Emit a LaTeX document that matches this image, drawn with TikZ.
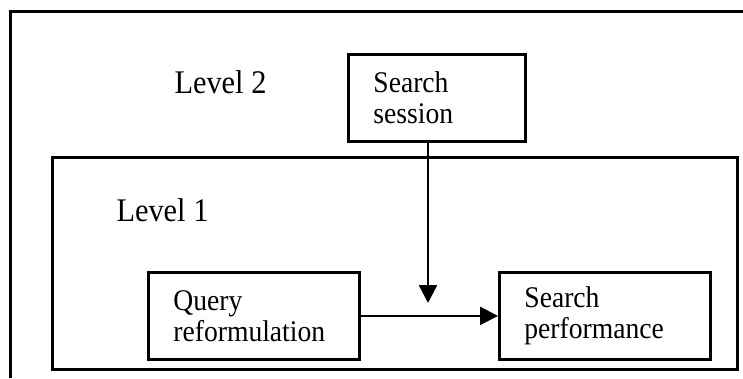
\documentclass[tikz,border=0pt]{standalone}
\usepackage{fontspec}
\setmainfont[FakeStretch=0.92]{Liberation Serif}
\usetikzlibrary{arrows.meta}

\begin{document}
\begin{tikzpicture}[x=1pt,y=-1pt,
	frame/.style={line width=3pt},
	box/.style={draw, line width=2.8pt, anchor=north west, align=left,
		inner xsep=25pt, minimum height=87pt, font=\fontsize{30}{31}\selectfont},
	lvl/.style={anchor=base west, font=\fontsize{33}{33}\selectfont},
	flow/.style={line width=2.4pt, -{Triangle[length=18pt,width=18pt]}}]
	\useasboundingbox (0,0) rectangle (743,378);%page size

	% frames of the two levels
	\draw[frame] (10,378) |- (743,11);
	\draw[frame] (52,157) rectangle (737,369);

	\node[lvl] (lvltwo) at (171,93) {Level 2};
	\node[lvl] (lvlone) at (113,221) {Level 1};

	\node[box, minimum width=177pt, text width=127pt] (session) at (347,53) {Search\\session};
	\node[box, minimum width=211pt, text width=161pt] (query) at (147,271) {Query\\reformulation};
	\node[box, minimum width=211pt, text width=161pt] (perf) at (498,271) {Search\\performance};

	\coordinate (meet) at (428,303);
	\draw[flow] (session.south -| meet) -- (meet);
	\draw[flow] (query.east) -- (perf.west);
\end{tikzpicture}
\end{document}
